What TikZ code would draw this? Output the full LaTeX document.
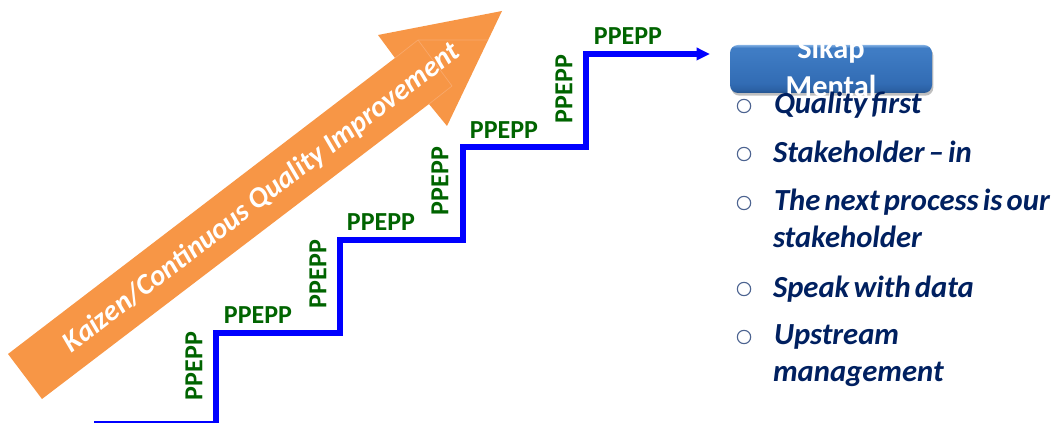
\documentclass[tikz,border=0pt]{standalone}
\usepackage{fontspec}
\setmainfont{Carlito}
\newfontfamily\itemfont[WordSpace=0.6,BoldFont={Carlito Bold},BoldItalicFont={Carlito Bold Italic}]{Carlito}
\usetikzlibrary{shadows,arrows.meta,calc}
\definecolor{arrowor}{HTML}{F79646}
\definecolor{arrowline}{HTML}{F9A96C}
\definecolor{stairblue}{HTML}{0000FF}
\definecolor{labgreen}{HTML}{006400}
\definecolor{navy}{HTML}{002060}
\definecolor{bxa}{HTML}{24538E}
\definecolor{bxb}{HTML}{2C62A6}
\definecolor{bxc}{HTML}{326CB4}
\definecolor{bxd}{HTML}{3F7CC4}
\definecolor{bxe}{HTML}{7FAEE2}
\pgfdeclareverticalshading{mentalbox}{100bp}{
  color(0bp)=(bxa); color(25bp)=(bxa); color(29bp)=(bxb); color(35bp)=(bxc); color(68bp)=(bxd); color(72bp)=(bxd); color(75bp)=(bxe); color(100bp)=(bxe)}
\tikzset{
  every node/.style={inner sep=0pt,outer sep=0pt},
  ppepp/.style={font=\fontsize{19.5pt}{20pt}\selectfont\bfseries,text=labgreen,anchor=center},
  bul/.style={circle,draw=navy!70,line width=0.85pt,minimum size=10pt},
  item/.style={font=\fontsize{23pt}{24pt}\itemfont\bfseries\itshape,text=navy,anchor=base west},
  stair/.style={draw=stairblue,line width=4.25pt,line join=miter},
  faint/.style={draw=arrowline,line width=0.5pt},
  boxtxt/.style={font=\fontsize{22.8pt}{24pt}\selectfont\bfseries,text=white,anchor=center}
}
\begin{document}
\begin{tikzpicture}[x=0.75pt,y=-0.75pt]
\useasboundingbox (0,0) rectangle (1059,423);
% big arrow
\fill[arrowor] (8,354) -- (395,58) -- (378,35) -- (502,11) -- (447,126) -- (429,104) -- (42,399) -- cycle;
\draw[faint] (395,58) -- (418,40) -- (488,40);
\draw[faint] (418,40) -- (452,86) -- (429,104);
\node[font=\fontsize{21.8pt}{22pt}\selectfont\bfseries\itshape,text=white,rotate=37.4] (kaizen) at (262,198) {Kaizen/Continuous Quality Improvement};
% stairs
\coordinate (s0) at (94,424);
\coordinate (s1) at (216,424);
\coordinate (s2) at (216,333);
\coordinate (s3) at (340,333);
\coordinate (s4) at (340,240);
\coordinate (s5) at (463,240);
\coordinate (s6) at (463,147);
\coordinate (s7) at (586,147);
\coordinate (s8) at (586,54);
\coordinate (s9) at (698,54);
\coordinate (s10) at (710,54);
\begin{scope}
\clip (0,0) rectangle (1059,423);
\draw[stair] (s0) -- (s1) -- (s2) -- (s3) -- (s4) -- (s5) -- (s6) -- (s7) -- (s8) -- (s9);
\end{scope}
\draw[stairblue,-{Triangle[length=10pt,width=9pt]},line width=3pt] (s9) -- (s10);
% labels
\node[ppepp] (h1) at (258,315) {PPEPP};
\node[ppepp] (h2) at (381,222) {PPEPP};
\node[ppepp] (h3) at (504,130) {PPEPP};
\node[ppepp] (h4) at (628,36) {PPEPP};
\node[ppepp,rotate=90] (v1) at (194,366) {PPEPP};
\node[ppepp,rotate=90] (v2) at (318,274) {PPEPP};
\node[ppepp,rotate=90] (v3) at (440,181) {PPEPP};
\node[ppepp,rotate=90] (v4) at (564,89) {PPEPP};
% box
\node[rounded corners=6pt,minimum width=151.5pt,minimum height=36pt,shading=mentalbox,
  drop shadow={shadow xshift=1pt,shadow yshift=-2pt,opacity=0.5}] (box) at (831,69) {};
\node[boxtxt] (sikap) at (831,50) {Sikap};
\node[boxtxt] (mental) at (831,86) {Mental};
% bullets
\node[bul] (b1) at (744,106) {};
\node[bul] (b2) at (744,154) {};
\node[bul] (b3) at (744,203) {};
\node[bul] (b4) at (744,289) {};
\node[bul] (b5) at (744,337) {};
\node[item] (t1) at (774,114) {Quality first};
\node[item] (t2) at (773,163) {Stakeholder – in};
\node[item] (t3) at (774,211) {The next process is our};
\node[item] (t3b) at (773,248) {stakeholder};
\node[item] (t4) at (773,298) {Speak with data};
\node[item] (t5) at (774,345) {Upstream};
\node[item] (t5b) at (773,382) {management};
\end{tikzpicture}
\end{document}
